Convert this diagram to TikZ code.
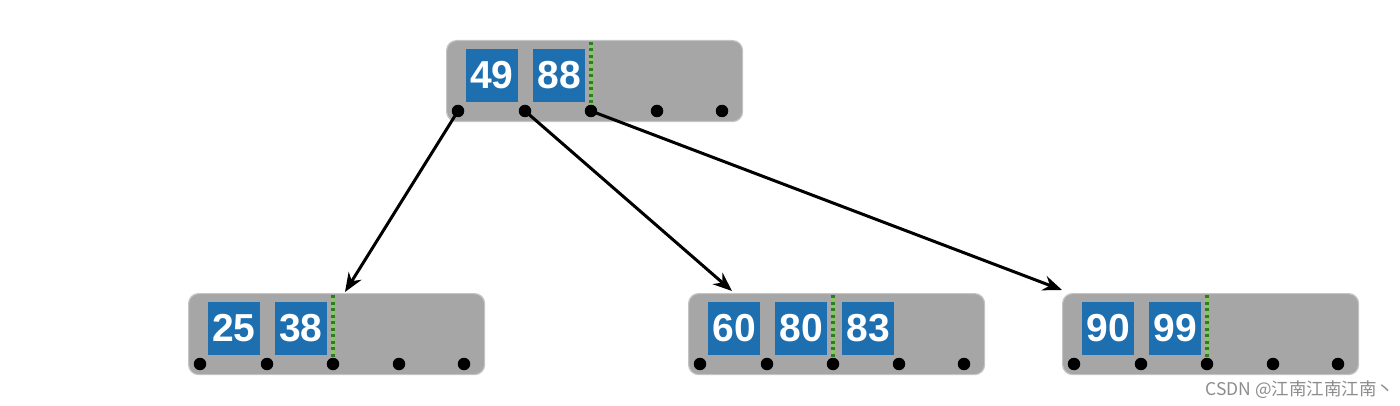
\documentclass[tikz,border=0pt]{standalone}
\usepackage{fontspec}
\setmainfont{Liberation Sans}
\newfontfamily\cjkfont{Noto Sans CJK SC}
\usetikzlibrary{arrows.meta}
\definecolor{nodegray}{HTML}{A6A6A6}
\definecolor{nodeedge}{HTML}{C4C4C4}
\definecolor{keyblue}{HTML}{1E6FB0}
\definecolor{ptrgreen}{HTML}{2E7D22}
\definecolor{ptrlight}{HTML}{8CC46E}
\definecolor{markgray}{HTML}{8C8C8C}
\tikzset{
  pagebox/.style={draw=nodeedge, line width=1.2pt, fill=nodegray, rounded corners=10pt,
    minimum width=296pt, minimum height=81pt, anchor=north west, inner sep=0pt},
  keybox/.style={fill=keyblue, text=white, minimum width=52pt, minimum height=53pt,
    inner sep=0pt, font=\fontsize{39}{41}\selectfont\bfseries},
  ptrdot/.style={circle, fill=black, minimum size=12.5pt, inner sep=0pt},
  splitbase/.style={ptrlight, line width=3.4pt},
  splitline/.style={ptrgreen, line width=3.4pt, dash pattern=on 3pt off 3.5pt},
  link/.style={line width=3pt, -{Stealth[length=19pt,width=15pt]}},
}
\newcommand\btpage[4]{%
  \node[pagebox] (#1) at (#2,#3) {};
  \foreach \k [count=\i] in {#4} {
    \node[keybox] (#1k\i) at ({#2+46+67*(\i-1)},{#3+35.5}) {\k};
  }
  \coordinate (#1s) at ({#2+145},{#3+2});
  \coordinate (#1e) at ({#2+145},{#3+71});
  \draw[splitbase] (#1s) -- (#1e);
  \draw[splitline] (#1s) -- (#1e);
  \foreach \dx [count=\j] in {12,79,145,211,276} {
    \node[ptrdot] (#1p\j) at ({#2+\dx},{#3+71}) {};
  }
}
\begin{document}
\begin{tikzpicture}[x=1pt,y=-1pt]
  \useasboundingbox (0,0) rectangle (1400,406);
  \btpage{root}{446}{40}{49,88}
  \btpage{left}{188}{293}{25,38}
  \btpage{mid}{688}{293}{60,80,83}
  \btpage{right}{1062}{293}{90,99}
  \coordinate (tl) at (345,292);
  \coordinate (tm) at (732,291);
  \coordinate (tr) at (1062,290);
  \draw[link] (rootp1.center) -- (tl);
  \draw[link] (rootp2.center) -- (tm);
  \draw[link] (rootp3.center) -- (tr);
  \node[font=\cjkfont\fontsize{17.5}{19}\selectfont, text=markgray] (wm) at (1300,390) {CSDN @江南江南江南丶};
\end{tikzpicture}
\end{document}
